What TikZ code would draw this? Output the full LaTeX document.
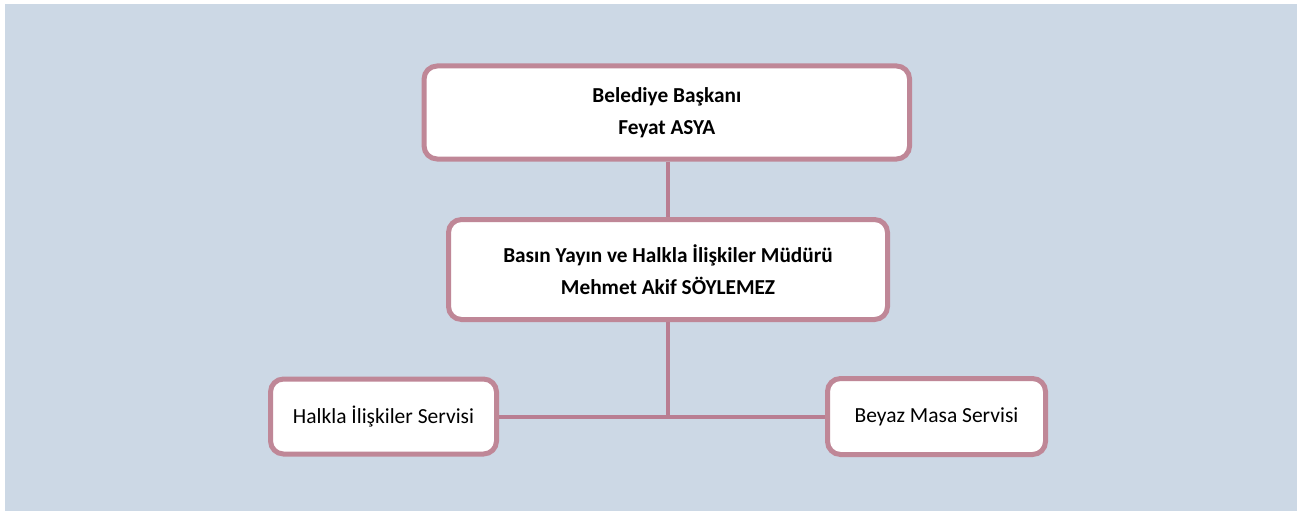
\documentclass[tikz,border=0pt]{standalone}
\usepackage{fontspec}
\setmainfont{Carlito}
\definecolor{pagebg}{HTML}{CCD8E5}
\definecolor{frame}{HTML}{BF8797}
\definecolor{link}{HTML}{B97E92}
\begin{document}
\begin{tikzpicture}[x=1pt,y=-1pt,
  box/.style={draw=frame, fill=white, line width=5pt, rounded corners=13pt,
    inner sep=0pt, align=center, font=\fontsize{21.5}{31}\selectfont},
  headbox/.style={box, font=\fontsize{21.3}{32}\selectfont\bfseries},
  wire/.style={draw=link, line width=4pt}]
  \useasboundingbox (0,0) rectangle (1304,511);
  \fill[pagebg] (5,4) rectangle (1297,511);

  \node[headbox, minimum width=485.5pt, minimum height=93pt] (mayor) at (666.8,112.5)
    {Belediye Başkanı\\Feyat ASYA};
  \node[headbox, minimum width=439pt, minimum height=100pt] (director) at (668,269.5)
    {Basın Yayın ve Halkla İlişkiler Müdürü\\Mehmet Akif SÖYLEMEZ};
  \node[box, minimum width=226pt, minimum height=75pt] (pr) at (383.5,416.5)
    {Halkla İlişkiler Servisi};
  \node[box, minimum width=218pt, minimum height=76pt] (desk) at (936.5,416.5)
    {Beyaz Masa Servisi};

  \coordinate (hub) at (director.south |- pr.east);
  \draw[wire] (mayor.south -| director.south) -- (director.north);
  \draw[wire] (director.south) -- (hub);
  \draw[wire] (pr.east) -- (hub) -- (desk.west);
\end{tikzpicture}
\end{document}
